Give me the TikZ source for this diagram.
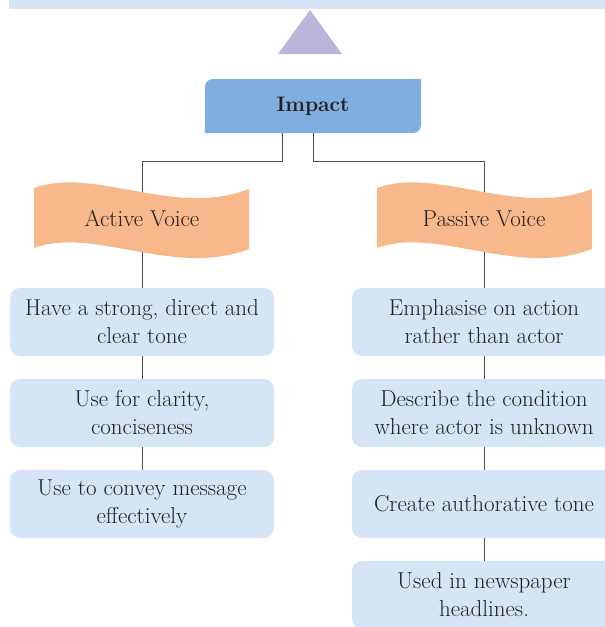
\documentclass[tikz,border=0pt]{standalone}
\usepackage{xcolor}
\usepackage{tikz}
\usetikzlibrary{shapes,backgrounds}

\definecolor{boxblue}{HTML}{D5E5F5}
\definecolor{impblue}{HTML}{80AEDE}
\definecolor{trililac}{HTML}{BAB5DA}
\definecolor{bannerorange}{HTML}{F7B98B}
\definecolor{inkgrey}{HTML}{231F20}
\definecolor{linegrey}{HTML}{4D4D4D}

\begin{document}
\begin{tikzpicture}[x=1pt,y=-1pt,
        every node/.style = {text=inkgrey, font=\fontsize{23}{28}\selectfont},
        point/.style = {rectangle, rounded corners=10pt, fill=boxblue, minimum width=264pt, minimum height=68pt, align=center, inner sep=0pt},
        banner/.style = {fill=bannerorange},
        link/.style = {draw=linegrey, line width=1pt}
        ]
    \useasboundingbox (0,0) rectangle (605,627);
    \clip (0,0) rectangle (605,627);

    \fill[boxblue] (9,0) rectangle (605,9);
    \fill[trililac] (310,10) -- (342,54) -- (278,54) -- cycle;

    \node[fill=impblue, rounded corners=8pt, minimum width=216pt, minimum height=54pt, font=\fontsize{21}{28}\selectfont\bfseries] (imp) at (313,106) {Impact};
    \fill[impblue] (imp.north east) rectangle ++(-10,10) (imp.south west) rectangle ++(10,-10); % square corners

    \fill[banner, shift={(34,180)}] (0,8) .. controls (60,-14) and (140,38) .. (215,9) -- (215,69) .. controls (140,98) and (60,46) .. (0,68) -- cycle;
    \node (av) at (142,219) {Active Voice}; %label
    \fill[banner, shift={(377,180)}] (0,8) .. controls (60,-14) and (140,38) .. (215,9) -- (215,69) .. controls (140,98) and (60,46) .. (0,68) -- cycle;
    \node (pv) at (484,219) {Passive Voice}; %label

    \node[point] (a1) at (142,322) {Have a strong, direct and\\clear tone};
    \node[point] (a2) at (142,413) {Use for clarity,\\conciseness};
    \node[point] (a3) at (142,504) {Use to convey message\\effectively};

    \node[point] (p1) at (484,322) {Emphasise on action\\rather than actor};
    \node[point] (p2) at (484,413) {Describe the condition\\where actor is unknown};
    \node[point] (p3) at (484,504) {Create authorative tone};
    \node[point] (p4) at (484,595) {Used in newspaper\\headlines.};

    \begin{scope}[on background layer]
    \draw[link] ([xshift=-31pt]imp.south) -- ++(0,28) -| (av.center);
    \draw[link] (imp.south) -- ++(0,28) -| (pv.center);
    \draw[link] (av.center) -- (a1.north)
                (a1.south) -- (a2.north)
                (a2.south) -- (a3.north);
    \draw[link] (pv.center) -- (p1.north)
                (p1.south) -- (p2.north)
                (p2.south) -- (p3.north)
                (p3.south) -- (p4.north);
    \end{scope}
\end{tikzpicture}
\end{document}
